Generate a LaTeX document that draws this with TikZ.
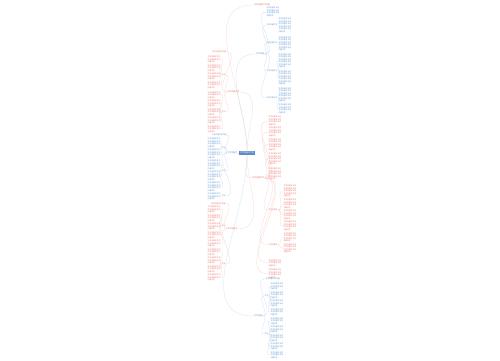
\documentclass[tikz,border=0pt]{standalone}
\usepackage{fontspec}
\newfontfamily\cjk{Noto Sans CJK SC}
\XeTeXlinebreaklocale "zh"
\XeTeXlinebreakskip=0pt plus 0.2pt
\definecolor{redtxt}{HTML}{E6675F}
\definecolor{bluetxt}{HTML}{4E8BCD}
\definecolor{rootfill}{HTML}{5A8CC8}
\newcount\repc
\newcommand\rep[1]{\repc=#1\relax\advance\repc by -1\relax%
\loop\ifnum\repc>0 文字内容文字内\advance\repc by -1\relax\repeat 内容文字}
\tikzset{
 blk/.style={text=#1, font=\cjk\fontsize{1.8pt}{2.5pt}\selectfont, text width=12.8pt, align=left, inner sep=0.3pt},
 lbl/.style={text=#1, font=\cjk\fontsize{1.8pt}{2.5pt}\selectfont, inner sep=0.3pt},
 brl/.style={text=#1, font=\cjk\fontsize{2pt}{2.5pt}\selectfont, inner sep=0.4pt},
 con/.style={draw=#1!30, line width=0.25pt},
 rootbox/.style={fill=rootfill, text=white, font=\cjk\fontsize{2pt}{2.5pt}\selectfont, inner sep=0.8pt},
}
\newcommand\rightblk[5]{\node[blk=#1,anchor=west] (#2) at (#3) {\rep{#4}}; \draw[con=#1] (#5.east) to[out=0,in=180] (#2.west);}
\newcommand\leftblk[5]{\node[blk=#1,anchor=east] (#2) at (#3) {\rep{#4}}; \draw[con=#1] (#5.west) to[out=180,in=0] (#2.east);}
\newcommand\rightsub[5]{\node[lbl=#1,anchor=west] (#2) at (#3) {#4}; \draw[con=#1] (#5.east) to[out=0,in=180] (#2.west);}
\newcommand\leftsub[5]{\node[lbl=#1,anchor=east] (#2) at (#3) {#4}; \draw[con=#1] (#5.west) to[out=180,in=0] (#2.east);}
\begin{document}
\begin{tikzpicture}[x=1pt,y=-1pt]
\useasboundingbox (0,0) rectangle (500,360);
\node[rootbox] (root) at (247,153) {文字内容文字内};
% top red branch
\node[brl=redtxt] (T) at (262,5) {文字内容文字内容};
\draw[con=redtxt] (root.north) to[out=90,in=180] (T.west);
% right blue branch 1
\node[brl=bluetxt] (b1) at (260,54) {文字内容};
\draw[con=bluetxt] (root.north) to[out=90,in=180] (b1.west);
\rightblk{bluetxt}{b1c0}{266,12}{4}{b1}
\rightsub{bluetxt}{b1s1}{266,25}{文字内容文字}{b1}
\rightblk{bluetxt}{b1s1a}{278,25.5}{6}{b1s1}
\rightsub{bluetxt}{b1s2}{266,43}{文字内容文字}{b1}
\rightblk{bluetxt}{b1s2a}{278,44}{6}{b1s2}
\rightsub{bluetxt}{b1s3}{266,71}{文字内容文字}{b1}
\rightblk{bluetxt}{b1s3a}{278,61}{6}{b1s3}
\rightblk{bluetxt}{b1s3b}{278,78}{6}{b1s3}
\rightsub{bluetxt}{b1s4}{266,98}{文字内容文字}{b1}
\rightblk{bluetxt}{b1s4a}{278,95}{6}{b1s4}
\rightblk{bluetxt}{b1s4b}{278,109}{4}{b1s4}
% right red branch 2
\node[brl=redtxt] (r2) at (258,178) {文字内容文字};
\draw[con=redtxt] (root.south) to[out=-90,in=180] (r2.west);
\rightblk{redtxt}{r2a}{268,121}{4}{r2}
\rightblk{redtxt}{r2b}{268,132}{4}{r2}
\rightblk{redtxt}{r2c}{268,144.5}{5}{r2}
\rightblk{redtxt}{r2d}{268,159}{5}{r2}
\rightblk{redtxt}{r2e}{268,174}{5}{r2}
\rightsub{redtxt}{r2s1}{268,210}{文字内容文}{r2}
\rightblk{redtxt}{r2s1a}{283,191}{5}{r2s1}
\rightblk{redtxt}{r2s1b}{283,204}{4}{r2s1}
\rightblk{redtxt}{r2s1c}{283,215}{4}{r2s1}
\rightblk{redtxt}{r2s1d}{283,226}{4}{r2s1}
\rightsub{redtxt}{r2s2}{268,245}{文字内容文}{r2}
\rightblk{redtxt}{r2s2a}{283,237.5}{4}{r2s2}
\rightblk{redtxt}{r2s2b}{283,248.5}{4}{r2s2}
\rightblk{redtxt}{r2f}{268,263}{3}{r2}
\rightblk{redtxt}{r2g}{268,274}{4}{r2}
% right blue branch 3
\node[brl=bluetxt] (b3) at (258,316) {文字内容};
\draw[con=bluetxt] (root.south) to[out=-90,in=180] (b3.west);
\rightsub{bluetxt}{b3h}{265,279}{文字内容文字内容}{b3}
\rightsub{bluetxt}{b3s1}{264,296}{文字}{b3}
\rightblk{bluetxt}{b3s1a}{270,286.5}{3}{b3s1}
\rightblk{bluetxt}{b3s1b}{270,295}{3}{b3s1}
\rightblk{bluetxt}{b3s1c}{270,303.5}{3}{b3s1}
\rightblk{bluetxt}{b3s1d}{270,312}{3}{b3s1}
\rightsub{bluetxt}{b3s2}{264,334}{文字}{b3}
\rightblk{bluetxt}{b3s2a}{270,321}{3}{b3s2}
\rightblk{bluetxt}{b3s2b}{270,329.5}{3}{b3s2}
\rightblk{bluetxt}{b3s2c}{270,338}{3}{b3s2}
\rightblk{bluetxt}{b3s2d}{270,346.5}{3}{b3s2}
\rightblk{bluetxt}{b3s2e}{270,355}{3}{b3s2}
% left red branch 1
\node[brl=redtxt,anchor=east] (l1) at (240,92) {文字内容文字};
\draw[con=redtxt] (root.north) to[out=90,in=0] (l1.east);
\leftsub{redtxt}{l1h}{227,52}{文字内容文字内容}{l1}
\leftsub{redtxt}{l1s1}{226,75}{文字}{l1}
\leftblk{redtxt}{l1s1a}{221,59.5}{3}{l1s1}
\leftblk{redtxt}{l1s1b}{221,68}{3}{l1s1}
\leftblk{redtxt}{l1s1c}{221,76.5}{3}{l1s1}
\leftblk{redtxt}{l1s1d}{221,85}{3}{l1s1}
\leftsub{redtxt}{l1s2}{226,112}{文字}{l1}
\leftblk{redtxt}{l1s2a}{221,95}{3}{l1s2}
\leftblk{redtxt}{l1s2b}{221,103.5}{3}{l1s2}
\leftblk{redtxt}{l1s2c}{221,112}{3}{l1s2}
\leftblk{redtxt}{l1s2d}{221,120.5}{3}{l1s2}
\leftblk{redtxt}{l1s2e}{221,129}{3}{l1s2}
% left blue branch 2
\node[brl=bluetxt,anchor=east] (l2) at (238,153) {文字内容文};
\draw[con=bluetxt] (root.west) -- (l2.east);
\leftsub{bluetxt}{l2h}{227,135}{文字内容文字内容}{l2}
\leftsub{bluetxt}{l2s1}{226,148}{文字}{l2}
\leftblk{bluetxt}{l2s1a}{221,143}{4}{l2s1}
\leftblk{bluetxt}{l2s1b}{221,154}{4}{l2s1}
\leftsub{bluetxt}{l2s2}{226,171}{文字}{l2}
\leftblk{bluetxt}{l2s2a}{221,165}{4}{l2s2}
\leftblk{bluetxt}{l2s2b}{221,176}{4}{l2s2}
\leftblk{bluetxt}{l2s2c}{221,187}{4}{l2s2}
\leftsub{bluetxt}{l2s3}{226,196}{文字}{l2}
\leftblk{bluetxt}{l2s3a}{221,196.5}{3}{l2s3}
% left red branch 3
\node[brl=redtxt,anchor=east] (l3) at (238,229) {文字内容文};
\draw[con=redtxt] (root.south) to[out=-90,in=0] (l3.east);
\leftsub{redtxt}{l3h}{226,203.5}{文字内容文字内容}{l3}
\leftsub{redtxt}{l3s1}{226,226}{文字}{l3}
\leftblk{redtxt}{l3s1a}{221,209.5}{3}{l3s1}
\leftblk{redtxt}{l3s1b}{221,218}{3}{l3s1}
\leftblk{redtxt}{l3s1c}{221,226.5}{3}{l3s1}
\leftblk{redtxt}{l3s1d}{221,235}{3}{l3s1}
\leftblk{redtxt}{l3s1e}{221,243.5}{3}{l3s1}
\leftsub{redtxt}{l3s2}{226,264}{文字}{l3}
\leftblk{redtxt}{l3s2a}{221,252}{3}{l3s2}
\leftblk{redtxt}{l3s2b}{221,260.5}{3}{l3s2}
\leftblk{redtxt}{l3s2c}{221,269}{3}{l3s2}
\leftblk{redtxt}{l3s2d}{221,277.5}{3}{l3s2}
\end{tikzpicture}
\end{document}
